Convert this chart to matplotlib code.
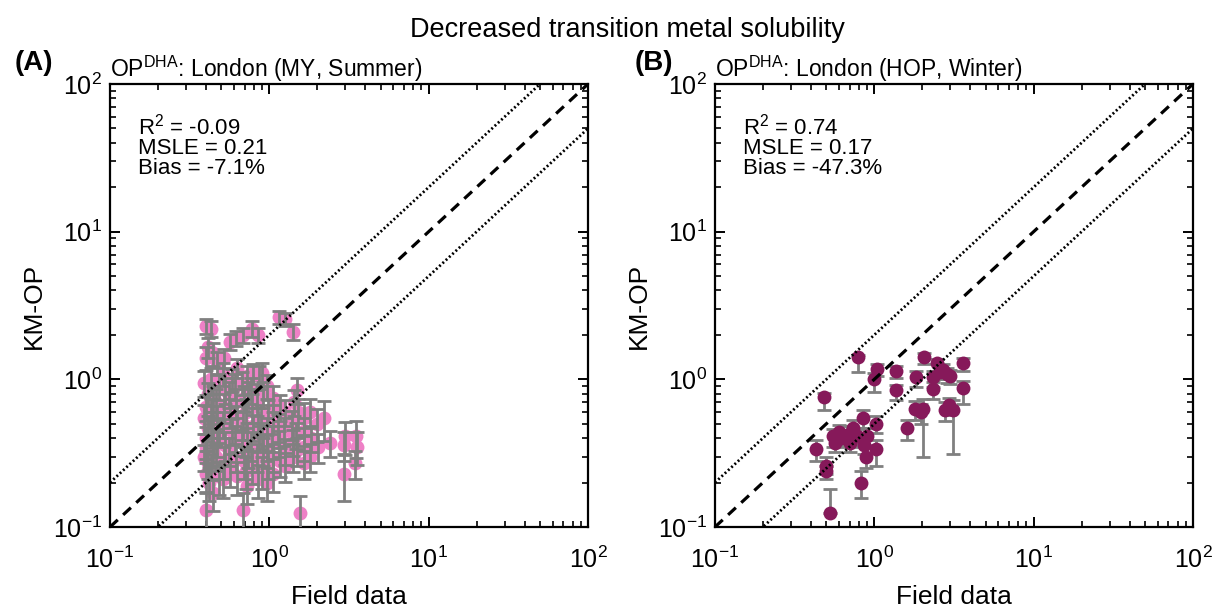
import matplotlib
matplotlib.use("Agg")
import matplotlib.pyplot as plt
from matplotlib.ticker import LogLocator, NullFormatter

plt.rcParams['font.family'] = ['Liberation Sans', 'DejaVu Sans']
plt.rcParams['mathtext.fontset'] = 'custom'
plt.rcParams['mathtext.rm'] = 'Liberation Sans'
plt.rcParams['mathtext.it'] = 'Liberation Sans:italic'
plt.rcParams['mathtext.bf'] = 'Liberation Sans:bold'

# ---------------- data ----------------
suptitle = "Decreased transition metal solubility"
panel_labels = ["(A)", "(B)"]
panel_titles = [r"OP$^{\mathrm{DHA}}$: London (MY, Summer)",
                r"OP$^{\mathrm{DHA}}$: London (HOP, Winter)"]
stats_a = ["R$^2$ = -0.09", "MSLE = 0.21", "Bias = -7.1%"]
stats_b = ["R$^2$ = 0.74", "MSLE = 0.17", "Bias = -47.3%"]
xlabel = "Field data"
ylabel = "KM-OP"

ref_x = [0.1, 100]
ref_one = [0.1, 100]
ref_upper = [0.2, 200]
ref_lower = [0.05, 50]

a_field = [
    0.40, 0.41, 0.40, 0.39, 0.41, 0.40, 0.39, 0.41, 0.40, 0.40, 0.39, 0.41, 0.40, 0.42, 0.40,
    0.43, 0.44, 0.43, 0.44, 0.43, 0.44, 0.43, 0.44, 0.43, 0.44,
    0.47, 0.48, 0.46, 0.47, 0.48, 0.47, 0.46, 0.48,
    0.52, 0.51, 0.53, 0.52, 0.51, 0.53, 0.52, 0.51,
    0.57, 0.58, 0.56, 0.57, 0.58, 0.56, 0.57,
    0.62, 0.63, 0.61, 0.62, 0.63, 0.61, 0.62, 0.63,
    0.68, 0.67, 0.69, 0.68, 0.67, 0.69, 0.68,
    0.72, 0.73, 0.71, 0.72, 0.73, 0.71, 0.72,
    0.78, 0.79, 0.77, 0.78, 0.79, 0.77, 0.78,
    0.85, 0.86, 0.84, 0.85, 0.86, 0.84, 0.85,
    0.90, 0.91, 0.89, 0.90, 0.91, 0.90,
    0.97, 0.98, 0.96, 0.97, 0.98, 0.97,
    1.05, 1.06, 1.04, 1.05, 1.06,
    1.15, 1.16, 1.14, 1.15, 1.16,
    1.25, 1.26, 1.24, 1.25, 1.26,
    1.40, 1.42, 1.38, 1.40, 1.41,
    1.50, 1.52, 1.48, 1.50, 1.55,
    1.65, 1.66, 1.64, 1.65,
    1.80, 1.82, 1.79,
    2.00, 2.02,
    2.20,
    2.40,
    3.00, 2.95, 2.95,
    3.50, 3.55, 3.45,
]
a_model = [
    2.30, 1.65, 1.40, 0.95, 0.80, 0.65, 0.55, 0.47, 0.40, 0.35, 0.30, 0.27, 0.23, 0.20, 0.13,
    2.20, 1.50, 1.00, 0.75, 0.60, 0.50, 0.42, 0.33, 0.26, 0.17,
    1.30, 0.90, 0.70, 0.55, 0.45, 0.38, 0.30, 0.22,
    1.40, 1.10, 0.85, 0.65, 0.50, 0.36, 0.28, 0.21,
    1.80, 1.00, 0.80, 0.60, 0.45, 0.33, 0.25,
    1.90, 1.20, 0.90, 0.70, 0.55, 0.40, 0.30, 0.22,
    2.00, 0.95, 0.75, 0.50, 0.38, 0.28, 0.13,
    1.05, 0.80, 0.60, 0.42, 0.32, 0.24, 0.19,
    2.20, 1.10, 0.85, 0.65, 0.48, 0.36, 0.26,
    2.00, 1.05, 0.70, 0.52, 0.40, 0.30, 0.21,
    1.10, 0.80, 0.55, 0.42, 0.33, 0.24,
    0.90, 0.60, 0.45, 0.35, 0.27, 0.20,
    0.75, 0.55, 0.40, 0.30, 0.23,
    2.65, 0.65, 0.48, 0.37, 0.28,
    2.55, 0.60, 0.45, 0.33, 0.26,
    2.10, 0.70, 0.50, 0.38, 0.30,
    0.85, 0.60, 0.42, 0.33, 0.125,
    0.55, 0.45, 0.35, 0.27,
    0.60, 0.40, 0.30,
    0.50, 0.35,
    0.55,
    0.37,
    0.41, 0.36, 0.23,
    0.41, 0.35, 0.27,
]
# relative error bar half-lengths (fraction of value)
a_rel_err = [
    0.12, 0.15, 0.18, 0.20, 0.18, 0.20, 0.22, 0.20, 0.18, 0.22, 0.20, 0.22, 0.25, 0.25, 0.30,
    0.12, 0.18, 0.20, 0.20, 0.22, 0.20, 0.18, 0.22, 0.20, 0.25,
    0.18, 0.20, 0.22, 0.20, 0.18, 0.22, 0.20, 0.25,
    0.15, 0.18, 0.20, 0.22, 0.20, 0.22, 0.25, 0.25,
    0.12, 0.18, 0.20, 0.22, 0.20, 0.22, 0.25,
    0.12, 0.15, 0.20, 0.22, 0.20, 0.20, 0.22, 0.25,
    0.12, 0.18, 0.20, 0.22, 0.20, 0.25, 0.30,
    0.18, 0.20, 0.22, 0.20, 0.22, 0.25, 0.25,
    0.12, 0.15, 0.20, 0.22, 0.20, 0.22, 0.25,
    0.12, 0.18, 0.20, 0.22, 0.20, 0.22, 0.25,
    0.18, 0.20, 0.22, 0.20, 0.22, 0.25,
    0.18, 0.20, 0.22, 0.20, 0.22, 0.25,
    0.20, 0.22, 0.20, 0.22, 0.25,
    0.10, 0.20, 0.22, 0.20, 0.22,
    0.10, 0.20, 0.22, 0.20, 0.22,
    0.12, 0.20, 0.22, 0.20, 0.22,
    0.20, 0.22, 0.20, 0.22, 0.30,
    0.25, 0.22, 0.20, 0.22,
    0.22, 0.20, 0.22,
    0.25, 0.22,
    0.30,
    0.20,
    0.25, 0.22, 0.35,
    0.28, 0.25, 0.22,
]

b_field = [0.79, 0.48, 0.43, 0.50, 0.50, 0.53, 0.83, 0.89, 0.85, 0.55,
           0.60, 0.67, 0.73, 0.78, 0.57, 0.70, 0.90, 0.86, 1.03, 1.03,
           0.99, 1.04, 1.37, 1.37, 1.60, 1.83, 1.80, 2.03, 1.95, 2.05,
           2.35, 2.35, 2.49, 2.71, 2.85, 2.78, 3.10, 2.95, 3.62, 3.62,
           2.60, 3.00, 0.62, 0.72]
b_model = [1.42, 0.76, 0.34, 0.26, 0.24, 0.125, 0.198, 0.30, 0.55, 0.41,
           0.44, 0.42, 0.47, 0.41, 0.37, 0.37, 0.41, 0.36, 0.50, 0.34,
           1.00, 1.17, 1.14, 0.84, 0.47, 1.04, 0.63, 0.63, 0.60, 1.41,
           1.04, 0.86, 1.28, 1.16, 1.09, 0.62, 0.62, 0.67, 1.28, 0.87,
           1.12, 1.05, 0.40, 0.43]
b_err_lo = [0.30, 0.14, 0.06, 0.03, 0.03, 0.00, 0.04, 0.05, 0.08, 0.06,
            0.06, 0.06, 0.07, 0.06, 0.05, 0.05, 0.06, 0.05, 0.07, 0.08,
            0.18, 0.12, 0.12, 0.12, 0.08, 0.15, 0.10, 0.33, 0.10, 0.15,
            0.15, 0.12, 0.15, 0.15, 0.15, 0.10, 0.31, 0.10, 0.15, 0.19,
            0.12, 0.12, 0.05, 0.05]
b_err_hi = [0.05, 0.05, 0.05, 0.04, 0.02, 0.055, 0.04, 0.06, 0.07, 0.05,
            0.05, 0.06, 0.06, 0.05, 0.05, 0.05, 0.06, 0.05, 0.06, 0.05,
            0.10, 0.10, 0.10, 0.08, 0.06, 0.10, 0.08, 0.10, 0.08, 0.10,
            0.10, 0.10, 0.10, 0.10, 0.10, 0.08, 0.10, 0.08, 0.12, 0.10,
            0.10, 0.10, 0.05, 0.05]

color_a = "#EE80C6"
color_b = "#86195A"
err_color = "#808080"

# ---------------- figure ----------------
fig = plt.figure(figsize=(12.17, 6.16), dpi=100)
ax_a = fig.add_axes([0.0904, 0.1445, 0.3928, 0.7192])
ax_b = fig.add_axes([0.5875, 0.1445, 0.3928, 0.7192])

a_yerr = [[y * e for y, e in zip(a_model, a_rel_err)],
          [y * e for y, e in zip(a_model, a_rel_err)]]
b_yerr = [b_err_lo, b_err_hi]

def style_axes(ax):
    ax.set_xscale('log')
    ax.set_yscale('log')
    ax.set_xlim(0.1, 100)
    ax.set_ylim(0.1, 100)
    for s in ax.spines.values():
        s.set_linewidth(1.6)
    ax.xaxis.set_major_locator(LogLocator(base=10, numticks=10))
    ax.yaxis.set_major_locator(LogLocator(base=10, numticks=10))
    ax.xaxis.set_minor_locator(LogLocator(base=10, subs=range(2, 10), numticks=20))
    ax.yaxis.set_minor_locator(LogLocator(base=10, subs=range(2, 10), numticks=20))
    ax.xaxis.set_minor_formatter(NullFormatter())
    ax.yaxis.set_minor_formatter(NullFormatter())
    ax.tick_params(which='both', direction='in', top=True, right=True, labelsize=18)
    ax.tick_params(which='major', length=7, width=1.4)
    ax.tick_params(which='minor', length=4, width=1.2)
    ax.tick_params(axis='x', which='major', pad=14)
    ax.tick_params(axis='y', which='major', pad=6)
    ax.set_xlabel(xlabel, fontsize=19)
    ax.set_ylabel(ylabel, fontsize=19)
    ax.xaxis.set_label_coords(0.5, -0.132)
    ax.yaxis.set_label_coords(-0.135, 0.5)

stat_y = [0.887, 0.842, 0.797]

for ax, fx, my, yerr, col, title, stats, err_on_top in [
        (ax_a, a_field, a_model, a_yerr, color_a, panel_titles[0], stats_a, True),
        (ax_b, b_field, b_model, b_yerr, color_b, panel_titles[1], stats_b, False)]:
    style_axes(ax)
    ez = 3 if err_on_top else 2
    mz = 2 if err_on_top else 3
    ax.errorbar(fx, my, yerr=yerr, fmt='none', ecolor=err_color, elinewidth=2,
                capsize=5, capthick=2, zorder=ez)
    ax.plot(fx, my, 'o', color=col, markersize=10, markeredgewidth=0, zorder=mz)
    ax.plot(ref_x, ref_one, color='black', linestyle=(0, (3.3, 2.3)), linewidth=2.3, zorder=4)
    ax.plot(ref_x, ref_upper, color='black', linestyle=(0, (0.7, 0.9)), linewidth=2.0, zorder=4)
    ax.plot(ref_x, ref_lower, color='black', linestyle=(0, (0.7, 0.9)), linewidth=2.0, zorder=4)
    ax.set_title(title, loc='left', fontsize=16.5, pad=3)
    for s, yy in zip(stats, stat_y):
        ax.text(0.0586, yy, s, transform=ax.transAxes, ha='left', va='baseline',
                fontsize=16)

fig.text(0.0123, 0.897, panel_labels[0], fontsize=20, fontweight='bold', va='center', ha='left')
fig.text(0.5215, 0.897, panel_labels[1], fontsize=20, fontweight='bold', va='center', ha='left')
fig.text(0.5156, 0.9394, suptitle, fontsize=19.5, ha='center', va='baseline')

fig.savefig("out.png", dpi=100)
